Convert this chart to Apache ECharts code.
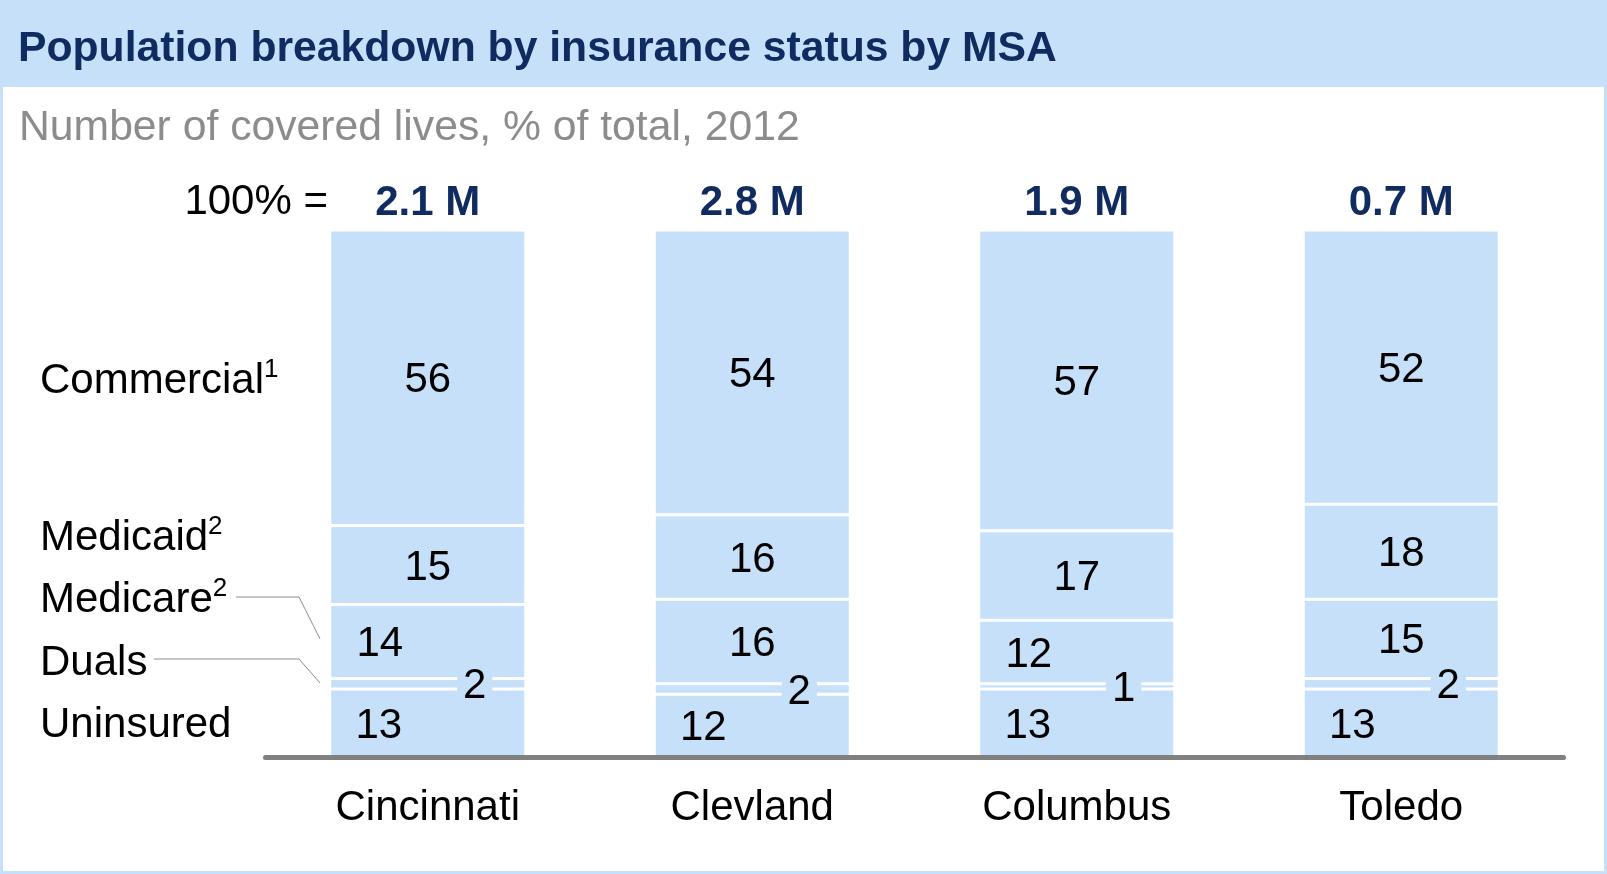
<!DOCTYPE html>
<html>
<head>
<meta charset="utf-8">
<title>Population breakdown by insurance status by MSA</title>
<script src="https://cdn.jsdelivr.net/npm/echarts@6/dist/echarts.min.js"></script>
<style>
  html, body { margin: 0; padding: 0; background: #fff; }
  #main { width: 1607px; height: 874px; }
</style>
</head>
<body>
<div id="main"></div>
<script>
// MSAs on the x axis
var cities = ["Cincinnati", "Clevland", "Columbus", "Toledo"];
// size of each market, shown in the "100% =" row
var totals = ["2.1 M", "2.8 M", "1.9 M", "0.7 M"];
// % of covered lives, from the bottom of each bar to the top
var uninsured = [13, 12, 13, 13];
var duals = [2, 2, 1, 2];
var medicare = [14, 16, 12, 15];
var medicaid = [15, 16, 17, 18];
var commercial = [56, 54, 57, 52];

var font = "Liberation Sans, Arial, sans-serif";
var barColor = "#c6e0fa";
var navy = "#0f2b5f";

var chart = echarts.init(document.getElementById("main"));

// one stacked segment per status, shifts = horizontal label offset per bar
function segment(name, values, shifts, extra) {
  return {
    name: name,
    type: "bar",
    stack: "total",
    barWidth: 196,
    emphasis: { disabled: true },
    itemStyle: { color: barColor, borderColor: "#fff", borderWidth: 1.5 },
    label: Object.assign({
      show: true,
      position: "inside",
      color: "#000",
      fontSize: 42,
      fontFamily: font,
      offset: [0, 3]
    }, extra || {}),
    data: values.map(function (v, i) {
      if (!shifts || !shifts[i]) return v;
      return { value: v, label: { offset: [shifts[i], 3] } };
    })
  };
}

var sup = { fontSize: 26, fontFamily: font, color: "#000", verticalAlign: "top" };
var main = { fontSize: 42, fontFamily: font, color: "#000" };

function sideLabel(txt, y) {
  return {
    type: "text", left: 40, top: y - 24, silent: true,
    style: { text: txt, rich: { m: main, s: sup }, lineHeight: 48 }
  };
}

var option = {
  animation: false,
  title: [
    {
      text: "Population breakdown by insurance status by MSA",
      left: 18, top: 28, padding: 0,
      textStyle: { fontSize: 42.7, fontWeight: "bold", color: navy, fontFamily: font }
    },
    {
      text: "Number of covered lives, % of total, 2012",
      left: 19, top: 107, padding: 0,
      textStyle: { fontSize: 42.7, fontWeight: "normal", color: "#8c8c8c", fontFamily: font }
    }
  ],
  grid: { left: 265.5, right: 43.5, top: 230, bottom: 116.5 },
  xAxis: [
    {
      type: "category",
      data: cities,
      z: 10,
      axisLine: { lineStyle: { color: "#808080", width: 5 } },
      axisTick: { show: false },
      axisLabel: { fontSize: 42, color: "#000", fontFamily: font, margin: 30 }
    },
    {
      type: "category",
      position: "top",
      data: totals,
      axisLine: { show: false },
      axisTick: { show: false },
      axisLabel: { fontSize: 42, fontWeight: "bold", color: navy, fontFamily: font, margin: 6 }
    }
  ],
  yAxis: { type: "value", min: 0, max: 100, show: false, splitLine: { show: false } },
  series: [
    segment("Uninsured", uninsured, [-49, -49, -49, -49]),
    segment("Duals", duals, [47, 47, 47, 47], { backgroundColor: barColor, padding: [0, 6] }),
    segment("Medicare", medicare, [-48, 0, -48, 0]),
    segment("Medicaid", medicaid),
    segment("Commercial", commercial)
  ],
  graphic: [
    { type: "rect", z: -10, silent: true, shape: { x: 0, y: 0, width: 1607, height: 87 }, style: { fill: barColor } },
    { type: "rect", z: -10, silent: true, shape: { x: 1.5, y: 1.5, width: 1604, height: 871 }, style: { fill: null, stroke: barColor, lineWidth: 3 } },
    {
      type: "text", right: 1607 - 328, top: 181, silent: true,
      style: { text: "100% =", font: "42px " + font, fill: "#000" }
    },
    sideLabel("{m|Commercial}{s|1}", 381),
    sideLabel("{m|Medicaid}{s|2}", 538),
    sideLabel("{m|Medicare}{s|2}", 600),
    sideLabel("{m|Duals}", 663),
    sideLabel("{m|Uninsured}", 725),
    {
      type: "polyline", silent: true,
      shape: { points: [[236, 597], [299, 597], [320, 639]] },
      style: { stroke: "#8c8c8c", lineWidth: 1, fill: null }
    },
    {
      type: "polyline", silent: true,
      shape: { points: [[154, 659], [299, 659], [320, 683]] },
      style: { stroke: "#8c8c8c", lineWidth: 1, fill: null }
    }
  ]
};

chart.setOption(option);
</script>
</body>
</html>
